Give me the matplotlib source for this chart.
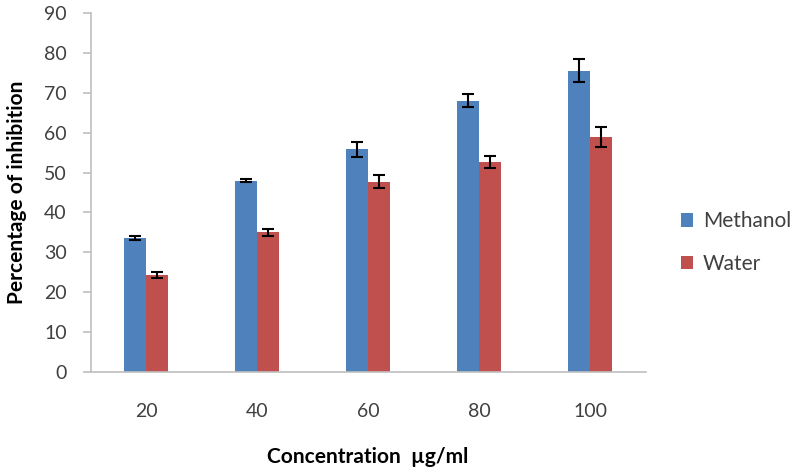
import matplotlib.pyplot as plt
import numpy as np

concentrations = ["20", "40", "60", "80", "100"]
methanol = [33.5, 48.0, 55.8, 68.0, 75.5]
methanol_err = [0.5, 0.4, 1.8, 1.6, 2.9]
water = [24.3, 35.0, 47.7, 52.6, 58.9]
water_err = [0.7, 0.8, 1.6, 1.5, 2.6]

plt.rcParams['font.family'] = ['Lato', 'DejaVu Sans']

fig = plt.figure(figsize=(7.98, 4.70), dpi=100)
ax = fig.add_axes([90.5 / 798, 98 / 470, 555 / 798, 359 / 470])

x = np.arange(len(concentrations))
w = 0.2
err_style = dict(ecolor="black", capsize=4, elinewidth=1.5, capthick=1.5)
ax.bar(x - w / 2, methanol, w, yerr=methanol_err, color="#4F81BD",
       label="Methanol", error_kw=err_style)
ax.bar(x + w / 2, water, w, yerr=water_err, color="#C0504D",
       label="Water", error_kw=err_style)

ax.set_xlim(-0.5, len(concentrations) - 0.5)
ax.set_ylim(0, 90)
ax.set_yticks(range(0, 91, 10))
ax.set_xticks(x)
ax.set_xticklabels(concentrations)

for s in ["top", "right"]:
    ax.spines[s].set_visible(False)
for s in ["left", "bottom"]:
    ax.spines[s].set_color("#BFBFBF")
    ax.spines[s].set_linewidth(1.2)
ax.tick_params(axis="y", colors="#BFBFBF", labelcolor="#404040",
               labelsize=14, length=6, width=1.2, pad=11)
ax.tick_params(axis="x", length=0, labelcolor="#404040", labelsize=14, pad=22)

ax.set_ylabel("Percentage of inhibition", fontsize=15, fontweight="bold", labelpad=12)
ax.set_xlabel("Concentration  \u00b5g/ml", fontsize=15, fontweight="bold", labelpad=20)

ax.legend(loc="center left", bbox_to_anchor=(1.03, 0.36), frameon=False,
          fontsize=15, handlelength=0.6, handleheight=0.6, labelspacing=1.1,
          handletextpad=0.45, labelcolor="#404040")

fig.savefig("out.png", dpi=100)
